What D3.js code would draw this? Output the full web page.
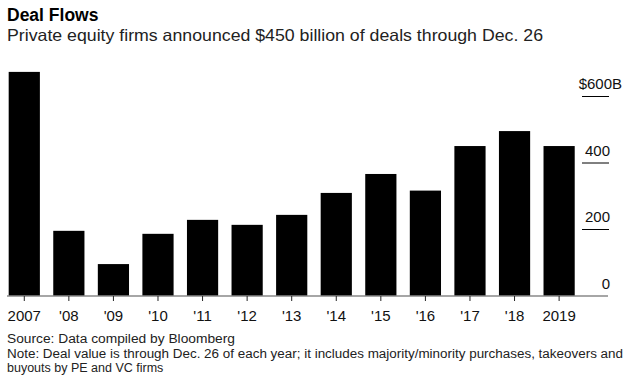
<!DOCTYPE html>
<html><head><meta charset="utf-8">
<script src="https://cdn.jsdelivr.net/npm/d3@7"></script>
<style>body{margin:0;background:#fff}svg{display:block}text{font-family:"Liberation Sans",Arial,sans-serif}</style>
</head><body><svg id="c" width="629" height="379"></svg>
<script>
const years = ["2007","'08","'09","'10","'11","'12","'13","'14","'15","'16","'17","'18","2019"];
const values = [674,196,96,187,229,214,244,310,367,317,451,496,451];
const yTicks = [0,200,400,600];
const yTickLabels = ["0","200","400","$600B"];

const svg = d3.select("#c");
const x = d3.scaleBand().domain(years).range([2,581.4]).paddingInner(0.3).paddingOuter(0.15);
const y = d3.scaleLinear().domain([0,600]).range([296,96.5]);

svg.append("text").attr("x",7).attr("y",21).attr("font-size",17.5).attr("font-weight","bold").attr("fill","#000").text("Deal Flows");
svg.append("text").attr("x",7).attr("y",41).attr("font-size",16.5).attr("fill","#222")
  .attr("textLength",536).attr("lengthAdjust","spacingAndGlyphs")
  .text("Private equity firms announced $450 billion of deals through Dec. 26");

svg.append("g").selectAll("rect").data(values).join("rect")
  .attr("x",(d,i)=>x(years[i])).attr("width",x.bandwidth())
  .attr("y",d=>y(d)).attr("height",d=>y(0)-y(d)).attr("fill","#000");

// x axis
svg.append("line").attr("x1",7).attr("x2",608).attr("y1",296).attr("y2",296).attr("stroke","#888").attr("stroke-width",1.5);
const xa = svg.append("g").attr("transform","translate(0,296)")
  .call(d3.axisBottom(x).tickSize(5).tickSizeOuter(0).tickPadding(9));
xa.select(".domain").remove();
xa.selectAll(".tick line").attr("stroke","#222");
xa.selectAll(".tick text").attr("font-size",15).attr("fill","#111").attr("font-family","Liberation Sans, Arial, sans-serif");

// y axis ticks (right side)
const yg = svg.append("g");
yg.selectAll("line").data(yTicks.slice(1)).join("line")
  .attr("x1",582).attr("x2",609).attr("y1",d=>y(d)).attr("y2",d=>y(d)).attr("stroke","#000").attr("stroke-width",1);
yg.selectAll("text").data(yTicks).join("text")
  .attr("x",(d,i)=> i===3 ? 622 : 610).attr("y",d=>y(d)-7.5)
  .attr("text-anchor","end").attr("font-size",15).attr("fill","#111")
  .text((d,i)=>yTickLabels[i]);

// footer
const foot = ["Source: Data compiled by Bloomberg","Note: Deal value is through Dec. 26 of each year; it includes majority/minority purchases, takeovers and","buyouts by PE and VC firms"];
const fw = [228, 616, null];
foot.forEach((t,i)=>{
  const el = svg.append("text").attr("x",7).attr("y",343+i*14.5).attr("font-size",12.5).attr("fill","#222").text(t);
  if (fw[i]) el.attr("textLength",fw[i]).attr("lengthAdjust","spacingAndGlyphs");
});
</script></body></html>
